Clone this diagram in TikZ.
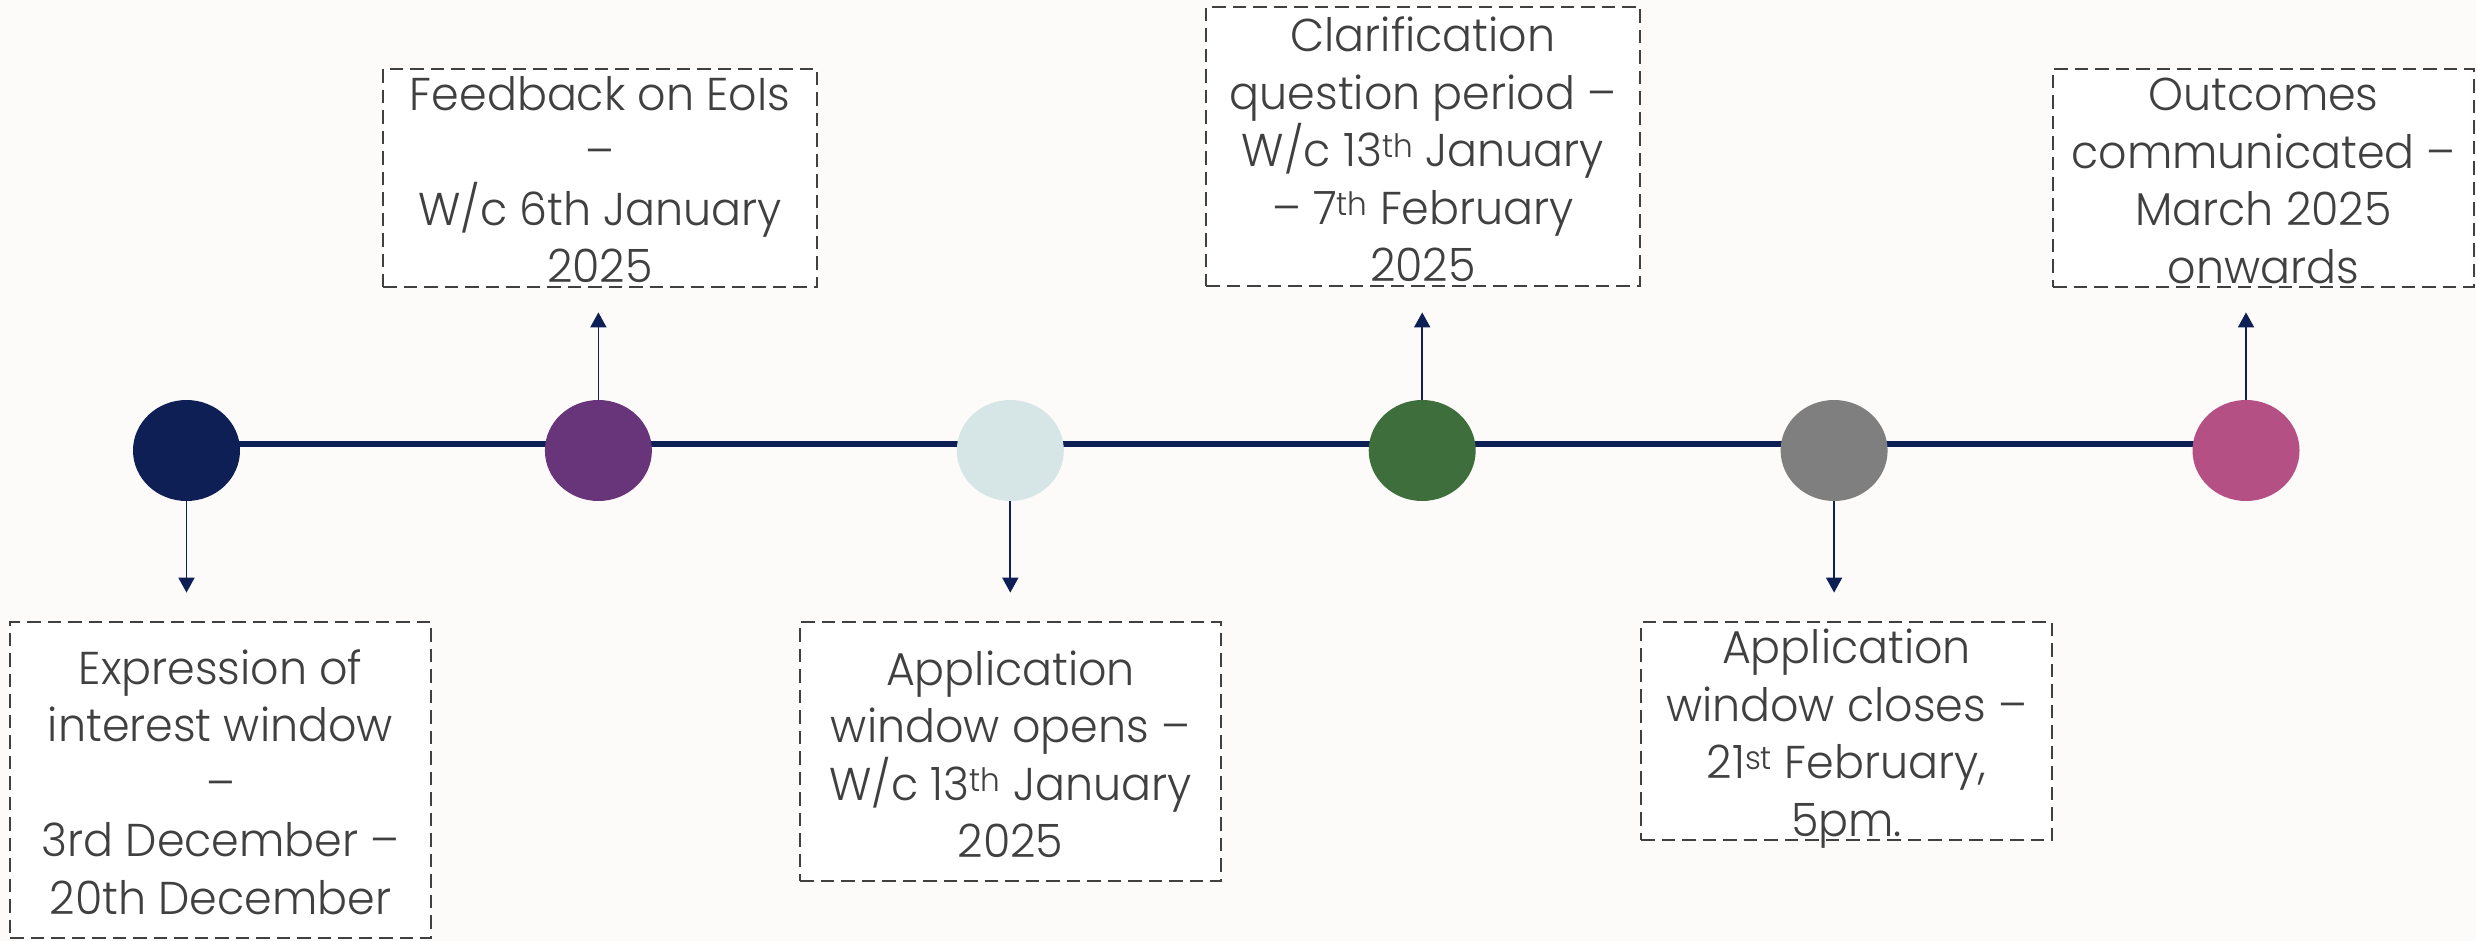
\documentclass[tikz,border=0pt]{standalone}
\usepackage{fontspec}
\IfFontExistsTF{Poppins Light}{\setmainfont{Poppins Light}[FakeStretch=0.965]}{%
 \IfFontExistsTF{Poppins-Light.ttf}{\setmainfont{Poppins-Light.ttf}[FakeStretch=0.965]}{%
  \setmainfont{Poppins}[FakeStretch=0.965]}}
\usetikzlibrary{shapes.geometric,arrows.meta,backgrounds}
\definecolor{bgc}{RGB}{252,251,249}
\definecolor{navy}{RGB}{14,31,86}
\definecolor{cpurple}{RGB}{104,53,122}
\definecolor{clight}{RGB}{214,229,229}
\definecolor{cgreen}{RGB}{62,110,59}
\definecolor{cgray}{RGB}{127,127,127}
\definecolor{cpink}{RGB}{181,80,133}
\definecolor{txt}{RGB}{64,64,64}
\tikzset{
  dot/.style={ellipse,minimum width=107pt,minimum height=101pt,inner sep=0pt,draw=none},
  dbox/.style={draw=txt,fill=white,line width=2.8pt,dash pattern=on 13.5pt off 7pt,inner sep=0pt},
  label text/.style={anchor=north,align=center,inner sep=0pt,text=txt,font=\fontsize{46pt}{57.5pt}\selectfont},
  tl/.style={draw=navy,line width=5.5pt},
  arr/.style={draw=navy,line width=1.8pt,-{Triangle[width=16pt,length=15pt]}},
}
\newcommand{\fl}{\rule{0pt}{40pt}}
\begin{document}
\begin{tikzpicture}[x=1pt,y=-1pt]
\useasboundingbox (0,0) rectangle (2476,941);
% circles
\node[dot,fill=navy]    (c1) at (186.5,450.5) {};
\node[dot,fill=cpurple] (c2) at (598.4,450.5) {};
\node[dot,fill=clight]  (c3) at (1010.3,450.5) {};
\node[dot,fill=cgreen]  (c4) at (1422.2,450.5) {};
\node[dot,fill=cgray]   (c5) at (1834.1,450.5) {};
\node[dot,fill=cpink]   (c6) at (2246,450.5) {};
\begin{pgfonlayer}{background}
\fill[bgc] (0,0) rectangle (2476,941);
\draw[tl] ([yshift=6.5pt]c1.center) -- ([yshift=6.5pt]c6.center);
\end{pgfonlayer}
% boxes
\node[dbox,minimum width=421pt,minimum height=316pt] (b1) at (220.5,780) {};
\node[dbox,minimum width=434pt,minimum height=218pt] (b2) at (600,178) {};
\node[dbox,minimum width=421pt,minimum height=259pt] (b3) at (1010.5,751.5) {};
\node[dbox,minimum width=434pt,minimum height=279pt] (b4) at (1423,146.5) {};
\node[dbox,minimum width=411pt,minimum height=218pt] (b5) at (1846.5,731) {};
\node[dbox,minimum width=421pt,minimum height=218pt] (b6) at (2263.5,178) {};
% texts
\node[label text] (t1) at (220.5,644) {\fl Expression of\\interest window\\–\\3rd December –\\20th December};
\node[label text] (t2) at (600,70) {\fl Feedback on EoIs\\–\\W/c 6th January\\2025};
\node[label text] (t3) at (1010.5,645) {\fl Application\\window opens –\\W/c 13\textsuperscript{th} January\\2025};
\node[label text] (t4) at (1423,11.7) {\fl Clarification\\question period –\\W/c 13\textsuperscript{th} January\\– 7\textsuperscript{th} February\\2025};
\node[label text] (t5) at (1846.5,623.3) {\fl Application\\window closes –\\21\textsuperscript{st} February,\\5pm.};
\node[label text] (t6) at (2263.5,70.7) {\fl Outcomes\\communicated –\\March 2025\\onwards};
% arrows
\draw[arr,shorten >=28pt] (c1.south) -- (c1.south |- b1.north);
\draw[arr,shorten >=24pt] (c2.north) -- (c2.north |- b2.south);
\draw[arr,shorten >=28pt] (c3.south) -- (c3.south |- b3.north);
\draw[arr,shorten >=25pt] (c4.north) -- (c4.north |- b4.south);
\draw[arr,shorten >=28pt] (c5.south) -- (c5.south |- b5.north);
\draw[arr,shorten >=24pt] (c6.north) -- (c6.north |- b6.south);
\end{tikzpicture}
\end{document}
